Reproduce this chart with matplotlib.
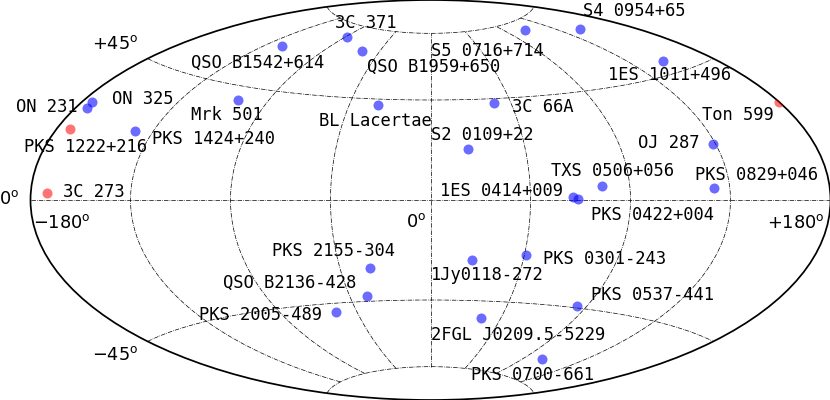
import numpy as np
import matplotlib
matplotlib.use("Agg")
import matplotlib.pyplot as plt
from matplotlib.ticker import FixedLocator, NullFormatter

W, H = 830, 400

# sources: longitude, latitude in degrees
names = ["3C 273", "PKS 1222+216", "Ton 599",
         "ON 231", "ON 325", "PKS 1424+240", "Mrk 501", "QSO B1542+614",
         "3C 371", "QSO B1959+650", "BL Lacertae", "S5 0716+714",
         "S4 0954+65", "1ES 1011+496", "3C 66A", "S2 0109+22", "OJ 287",
         "PKS 0829+046", "TXS 0506+056", "1ES 0414+009", "PKS 0422+004",
         "PKS 0301-243", "1Jy0118-272", "PKS 0537-441", "2FGL J0209.5-5229",
         "PKS 0700-661", "PKS 2155-304", "QSO B2136-428", "PKS 2005-489"]
lon = [-172.7, -173.8, 179.9,
       -174.6, -175.5, -143.2, -106.5, -124.3,
       -88.3, -60.0, -29.3, 110.5,
       149.7, 153.8, 35.7, 18.0, 133.7,
       128.0, 77.4, 64.2, 66.2,
       45.9, 20.1, 84.7, 32.3,
       105.1, -30.3, -35.2, -57.6]
lat = [2.05, 21.4, 29.3,
       28.2, 30.1, 23.8, 39.8, 61.5,
       69.8, 65.1, 42.3, 71.3,
       65.6, 49.4, 43.0, 22.7, 20.1,
       4.5, 5.7, 1.1, 0.6,
       -24.1, -27.0, -44.1, -52.5,
       -66.2, -30.2, -42.6, -48.8]
n_red = 3

# label anchors in pixels (left, baseline)
label_x = [63, 24, 702, 16, 112, 152, 191, 191, 335, 367, 319, 431, 583, 608,
           512, 431, 638, 695, 551, 440, 591, 543, 431, 591, 431, 471, 272, 223, 199]
label_y = [197, 152, 120, 112, 104, 144, 120, 68, 28, 72, 126, 56, 16, 80,
           112, 140, 148, 180, 176, 196, 220, 264, 280, 300, 340, 380, 256, 288, 320]

# grid labels
grid_text = ["$+45^{\\mathrm{o}}$", "$-45^{\\mathrm{o}}$", "$0^{\\mathrm{o}}$",
             "$0^{\\mathrm{o}}$", "$-180^{\\mathrm{o}}$", "$+180^{\\mathrm{o}}$"]
grid_x = [92, 92, 406, -1, 33, 767]
grid_y = [49, 360, 227, 204, 228, 228]

fig = plt.figure(figsize=(W / 100, H / 100), dpi=100)
ax = fig.add_axes([30.5 / W, 0, 800 / W, 1], projection="aitoff")

ax.set_longitude_grid_ends(75)
ax.xaxis.set_major_locator(FixedLocator(np.radians([-135, -90, -45, 0, 45, 90, 135])))
ax.yaxis.set_major_locator(FixedLocator(np.radians([-75, -45, 0, 45, 75])))
ax.xaxis.set_major_formatter(NullFormatter())
ax.yaxis.set_major_formatter(NullFormatter())
ax.grid(True, color="k", ls="-.", lw=0.5)
for s in ax.spines.values():
    s.set_linewidth(1.25)

x = np.radians(lon)
y = np.radians(lat)
ax.scatter(x[:n_red], y[:n_red], s=52, c="red", alpha=0.55, linewidths=0, zorder=3)
ax.scatter(x[n_red:], y[n_red:], s=52, c="blue", alpha=0.58, linewidths=0, zorder=3)

for i in range(len(names)):
    fig.text(label_x[i] / W, 1 - label_y[i] / H, names[i], family="DejaVu Sans Mono",
             fontsize=12.3, va="baseline", ha="left")

for i in range(len(grid_text)):
    fig.text(grid_x[i] / W, 1 - grid_y[i] / H, grid_text[i], fontsize=12.8,
             va="baseline", ha="left")

fig.savefig("out.png", dpi=100)
